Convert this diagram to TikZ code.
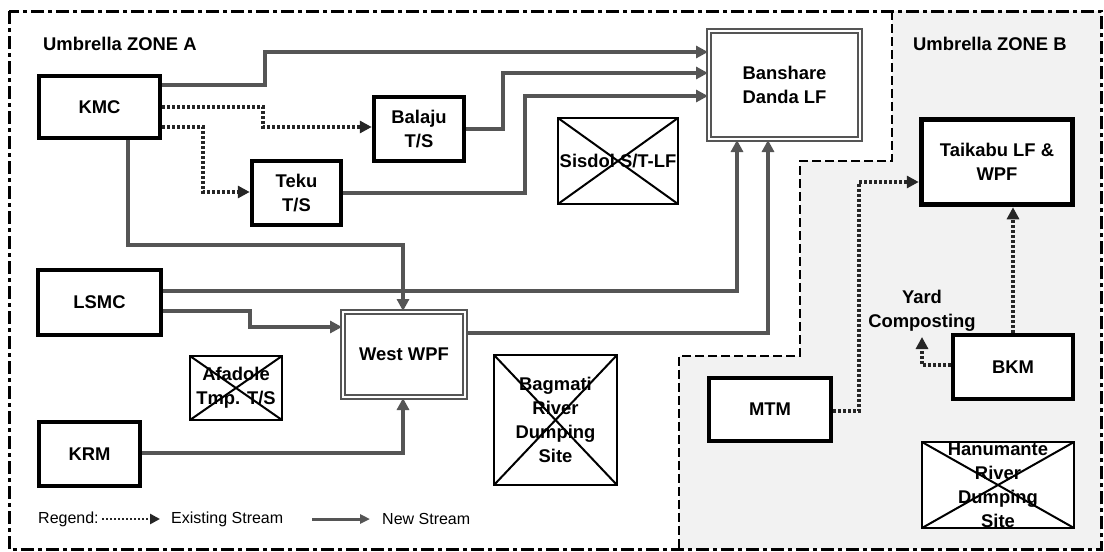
\documentclass[tikz,border=0pt]{standalone}
\usepackage{fontspec}
\setmainfont{Liberation Sans}
\usetikzlibrary{arrows.meta}
\definecolor{ln}{HTML}{555555}
\definecolor{zb}{HTML}{F2F2F2}
\begin{document}
\begin{tikzpicture}[x=1pt,y=-1pt,
  lbl/.style={font=\fontsize{18.4}{24}\selectfont\bfseries, align=center, inner sep=0pt},
  leg/.style={font=\fontsize{16}{19}\selectfont, inner sep=0pt, anchor=west},
  bx/.style={lbl, draw=black, line width=4.5pt, fill=white},
  dbl/.style={lbl, draw=ln, line width=2pt, double=white, double distance=2pt, fill=white},
  xbx/.style={lbl, draw=black, line width=2pt, fill=white,
    path picture={\draw[line width=2pt] (path picture bounding box.north west) -- (path picture bounding box.south east)
      (path picture bounding box.north east) -- (path picture bounding box.south west);}},
  newst/.style={draw=ln, line width=3.5pt, -{Triangle[length=12pt,width=12pt]}},
  oldst/.style={draw=black!85, line width=3.5pt, dash pattern=on 3pt off 2pt, -{Triangle[length=12pt,width=12pt]}},
  zoneline/.style={line width=2.5pt, dash pattern=on 9pt off 4pt},
]
\useasboundingbox (0,0) rectangle (1104,552);
\fill[white] (0,0) rectangle (1104,552);
% zone B background
\fill[zb] (892,11) -- (1101,11) -- (1101,549) -- (679,549) -- (679,356) -- (800,356) -- (800,161) -- (892,161) -- cycle;
\draw[zoneline] (892,11) -- (892,161) -- (800,161) -- (800,356) -- (679,356) -- (679,549);
\draw[line width=3pt, dash pattern=on 13pt off 4pt on 4pt off 4pt] (9,11) rectangle (1101,549);

\node[lbl, anchor=west] (za) at (43,44) {Umbrella ZONE A};
\node[lbl, anchor=west] (zbl) at (913,44) {Umbrella ZONE B};

% nodes
\node[bx, minimum width=121pt, minimum height=62pt] (kmc) at (99.5,107) {KMC};
\node[bx, minimum width=90pt, minimum height=64pt] (bal) at (419,129) {Balaju\\T/S};
\node[bx, minimum width=89pt, minimum height=64pt] (tek) at (296.5,193) {Teku\\T/S};
\node[dbl, minimum width=151pt, minimum height=108pt] (bdl) at (784.5,85) {Banshare\\Danda LF};
\node[xbx, minimum width=120pt, minimum height=86pt] (sis) at (618,161) {Sisdol S/T-LF};
\node[bx, line width=5pt, minimum width=151.5pt, minimum height=85.5pt] (tai) at (997,162) {Taikabu LF \&\\WPF};
\node[bx, minimum width=123pt, minimum height=65pt] (lsm) at (99.5,302.5) {LSMC};
\node[dbl, minimum width=122pt, minimum height=85pt] (wwp) at (404,354.5) {West WPF};
\node[xbx, minimum width=92pt, minimum height=64pt] (afa) at (236,388) {Afadole\\Tmp. T/S};
\node[xbx, minimum width=123pt, minimum height=130pt] (bag) at (555.5,420) {Bagmati\\River\\Dumping\\Site};
\node[bx, minimum width=101pt, minimum height=64pt] (krm) at (89.5,454) {KRM};
\node[bx, minimum width=122pt, minimum height=63pt] (mtm) at (770,409.5) {MTM};
\node[bx, minimum width=120pt, minimum height=64pt] (bkm) at (1013,367) {BKM};
\node[xbx, minimum width=152pt, minimum height=86pt] (han) at (998,485) {Hanumante\\River\\Dumping\\Site};
\node[lbl] (yard) at (922,311) {Yard\\Composting};
\coordinate (yc) at (922,337);

% new streams
\draw[newst] (kmc.east |- 0,85) -- (265,85) |- (bdl.west |- 0,52);
\draw[newst] (bal.east |- 0,129) -- (503,129) |- (bdl.west |- 0,73);
\draw[newst] (tek.east |- 0,193) -- (525,193) |- (bdl.west |- 0,96);
\draw[newst] (kmc.south -| 128,0) |- (403,245) -- (wwp.north -| 403,0);
\draw[newst] (lsm.east |- 0,291) -| (bdl.south -| 737,0);
\draw[newst] (lsm.east |- 0,311) -- (250,311) |- (wwp.west |- 0,327);
\draw[newst] (wwp.east |- 0,333) -| (bdl.south -| 768,0);
\draw[newst] (krm.east |- 0,453) -| (wwp.south -| 403,0);

% existing streams
\draw[oldst] (kmc.east |- 0,107) -- (263,107) |- (bal.west |- 0,127);
\draw[oldst] (kmc.east |- 0,127) -- (203,127) |- (tek.west |- 0,192);
\draw[oldst] (mtm.east |- 0,411) -- (859,411) |- (tai.west |- 0,182);
\draw[oldst] (bkm.north -| 1013,0) -- (tai.south -| 1013,0);
\draw[oldst] (bkm.west |- 0,365) -| (yc);

% legend
\node[leg] (reg) at (38,519) {Regend:};
\coordinate (l1a) at (102,519);
\coordinate (l1b) at (160,519);
\draw[draw=black!85, line width=2.5pt, dash pattern=on 2pt off 2pt, -{Triangle[length=10pt,width=10pt]}] (l1a) -- (l1b);
\node[leg] (ext) at (171,519) {Existing Stream};
\coordinate (l2a) at (312,519);
\coordinate (l2b) at (370,519);
\draw[draw=ln, line width=3pt, -{Triangle[length=10pt,width=9pt]}] (l2a) -- (l2b);
\node[leg] (nst) at (382,519) {New Stream};
\end{tikzpicture}
\end{document}
